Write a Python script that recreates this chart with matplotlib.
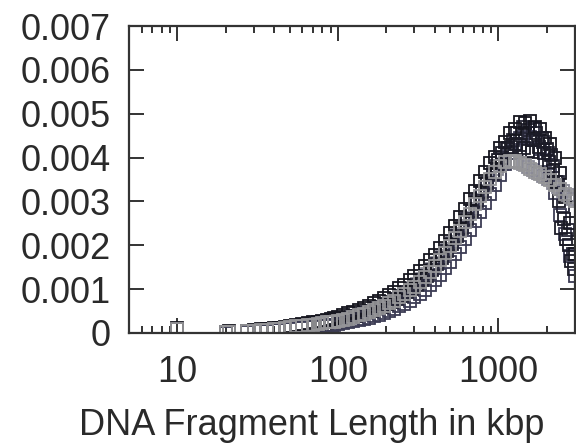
import matplotlib
matplotlib.use("Agg")
import matplotlib.pyplot as plt
from matplotlib.ticker import FixedLocator, LogLocator, NullFormatter, FixedFormatter

plt.rcParams['font.family'] = ['Liberation Sans', 'DejaVu Sans']

# fragment lengths (kbp)
x_kbp = [10, 20, 21, 27, 30, 33, 36, 40, 43, 47, 50, 55, 60, 65, 70, 75, 80, 85, 90, 95,
         100, 108, 116, 125, 135, 145, 156, 168, 180, 194, 209, 225, 242, 260, 280,
         300, 323, 347, 373, 401, 431, 463, 498, 535, 575, 618, 664, 714, 767, 824,
         886, 952, 1023, 1100, 1180, 1270, 1365, 1465, 1575, 1695, 1820, 1955, 2100,
         2260, 2430, 2610, 2800, 3000]

# second set of fragment lengths (between the above)
x_kbp_b = [104, 112, 120, 130, 140, 150, 162, 174, 187, 201, 217, 233, 251, 270, 290,
           311, 335, 360, 387, 416, 447, 480, 516, 555, 596, 641, 689, 740, 795, 855,
           919, 987, 1060, 1140, 1225, 1315, 1415, 1520, 1635, 1755, 1885, 2025, 2180,
           2345, 2520, 2705, 2900]

# extra dark points around and after the peak
x_kbp_c = [1000, 1060, 1130, 1200, 1280, 1360, 1440, 1530, 1620, 1650, 1720, 1790, 1860,
           1930, 2000, 2060, 2130, 2200, 2300, 2380, 2470, 2560, 2650, 2750, 2850, 2950]

# grey series
grey_vals = [0.00010, 0.00002, 0.00003, 0.00004, 0.00005, 0.00006, 0.00007, 0.00009, 0.00010, 0.00012,
             0.00013, 0.00015, 0.00016, 0.00018, 0.00019, 0.00021, 0.00022, 0.00024, 0.00025, 0.00026,
             0.00027, 0.00030, 0.00033, 0.00036, 0.00040, 0.00044, 0.00048, 0.00052, 0.00057, 0.00062,
             0.00068, 0.00074, 0.00081, 0.00089, 0.00097, 0.00106, 0.00117, 0.00128, 0.00140, 0.00153,
             0.00167, 0.00183, 0.00199, 0.00216, 0.00233, 0.00252, 0.00272, 0.00293, 0.00313, 0.00334,
             0.00352, 0.00368, 0.00381, 0.00389, 0.00392, 0.00392, 0.00388, 0.00382, 0.00375, 0.00368,
             0.00362, 0.00355, 0.00348, 0.00338, 0.00328, 0.00318, 0.00310, 0.00302]

grey_vals_b = [0.00029, 0.00031, 0.00035, 0.00038, 0.00042, 0.00046, 0.00050, 0.00055, 0.00060, 0.00065,
               0.00071, 0.00078, 0.00085, 0.00093, 0.00102, 0.00111, 0.00123, 0.00134, 0.00146, 0.00160,
               0.00175, 0.00191, 0.00207, 0.00225, 0.00243, 0.00262, 0.00283, 0.00303, 0.00324, 0.00343,
               0.00360, 0.00375, 0.00386, 0.00391, 0.00393, 0.00390, 0.00385, 0.00378, 0.00371, 0.00365,
               0.00358, 0.00352, 0.00343, 0.00333, 0.00323, 0.00314, 0.00306]

# black series (upper)
black_vals = [0.00011, 0.00003, 0.00004, 0.00005, 0.00006, 0.00008, 0.00009, 0.00011, 0.00012, 0.00014,
              0.00016, 0.00018, 0.00020, 0.00022, 0.00024, 0.00026, 0.00028, 0.00030, 0.00032, 0.00034,
              0.00037, 0.00040, 0.00045, 0.00048, 0.00053, 0.00058, 0.00062, 0.00068, 0.00074, 0.00079,
              0.00087, 0.00093, 0.00102, 0.00110, 0.00120, 0.00129, 0.00141, 0.00152, 0.00166, 0.00178,
              0.00194, 0.00209, 0.00228, 0.00244, 0.00264, 0.00282, 0.00305, 0.00324, 0.00347, 0.00366,
              0.00388, 0.00402, 0.00421, 0.00436, 0.00455, 0.00466, 0.00480, 0.00478, 0.00484, 0.00470,
              0.00466, 0.00445, 0.00432, 0.00400, 0.00365, 0.00310, 0.00250, 0.00180]

# black series (middle)
black_vals_b = [0.00031, 0.00033, 0.00036, 0.00039, 0.00043, 0.00047, 0.00051, 0.00056, 0.00060, 0.00066,
                0.00071, 0.00078, 0.00085, 0.00093, 0.00101, 0.00110, 0.00121, 0.00131, 0.00143, 0.00157,
                0.00171, 0.00187, 0.00203, 0.00221, 0.00239, 0.00259, 0.00279, 0.00300, 0.00321, 0.00342,
                0.00362, 0.00380, 0.00400, 0.00422, 0.00440, 0.00456, 0.00470, 0.00462, 0.00468, 0.00445,
                0.00436, 0.00410, 0.00380, 0.00345, 0.00290, 0.00235, 0.00180]

# black series (scatter around and after the peak)
black_vals_c = [0.00395, 0.00410, 0.00420, 0.00425, 0.00432, 0.00428, 0.00422, 0.00416, 0.00412, 0.00440,
                0.00455, 0.00425, 0.00445, 0.00410, 0.00420, 0.00390, 0.00405, 0.00370, 0.00345, 0.00300,
                0.00240, 0.00260, 0.00215, 0.00200, 0.00165, 0.00145]

# dark slate series (lower)
slate_vals = [0.00008, 0.00001, 0.00002, 0.00003, 0.00004, 0.00004, 0.00005, 0.00006, 0.00007, 0.00008,
              0.00010, 0.00011, 0.00012, 0.00013, 0.00014, 0.00015, 0.00016, 0.00017, 0.00018, 0.00019,
              0.00020, 0.00022, 0.00024, 0.00027, 0.00029, 0.00032, 0.00035, 0.00038, 0.00042, 0.00046,
              0.00050, 0.00055, 0.00061, 0.00067, 0.00074, 0.00081, 0.00090, 0.00099, 0.00109, 0.00121,
              0.00133, 0.00148, 0.00162, 0.00180, 0.00196, 0.00215, 0.00234, 0.00255, 0.00275, 0.00297,
              0.00318, 0.00338, 0.00360, 0.00385, 0.00410, 0.00430, 0.00445, 0.00455, 0.00448, 0.00440,
              0.00420, 0.00395, 0.00360, 0.00320, 0.00270, 0.00225, 0.00175, 0.00130]

x_ticks = [10, 100, 1000]
x_tick_labels = ['10', '100', '1000']
y_ticks = [0, 0.001, 0.002, 0.003, 0.004, 0.005, 0.006, 0.007]
y_tick_labels = ['0', '0.001', '0.002', '0.003', '0.004', '0.005', '0.006', '0.007']

fig = plt.figure(figsize=(5.76, 4.46), dpi=100)
ax = fig.add_axes([129/576, 1 - 333/446, (575 - 129)/576, (333 - 26)/446])

mk = dict(marker='s', linestyle='none', markersize=8, markerfacecolor='none', markeredgewidth=1.3)
ax.plot(x_kbp_b, grey_vals_b, markeredgecolor='#8a8a96', **mk)
ax.plot(x_kbp, slate_vals, markeredgecolor='#3c3c54', **mk)
ax.plot(x_kbp_b, black_vals_b, markeredgecolor='#262636', **mk)
ax.plot(x_kbp, black_vals, markeredgecolor='#16161f', **mk)
ax.plot(x_kbp_c, black_vals_c, markeredgecolor='#1c1c28', **mk)
ax.plot(x_kbp, grey_vals, markeredgecolor='#959598', **mk)

ax.set_xscale('log')
ax.set_xlim(5, 3000)
ax.set_ylim(0, 0.007)

ax.xaxis.set_major_locator(FixedLocator(x_ticks))
ax.xaxis.set_major_formatter(FixedFormatter(x_tick_labels))
ax.xaxis.set_minor_locator(LogLocator(base=10, subs=[2, 3, 4, 5, 6, 7, 8, 9]))
ax.xaxis.set_minor_formatter(NullFormatter())
ax.yaxis.set_major_locator(FixedLocator(y_ticks))
ax.yaxis.set_major_formatter(FixedFormatter(y_tick_labels))

txt = '#2a2a2a'
ax.tick_params(which='both', direction='in', top=True, right=True, color='#333333', width=1.4)
ax.tick_params(which='major', length=11, labelsize=26, labelcolor=txt)
ax.tick_params(which='minor', length=5)
ax.tick_params(axis='y', pad=13)
ax.tick_params(axis='x', pad=16)
for s in ax.spines.values():
    s.set_linewidth(1.6)
    s.set_color('#333333')

fig.text(312/576, 1 - 435/446, 'DNA Fragment Length in kbp', ha='center', va='baseline',
         fontsize=26, color=txt)

fig.savefig('out.png', dpi=100)
